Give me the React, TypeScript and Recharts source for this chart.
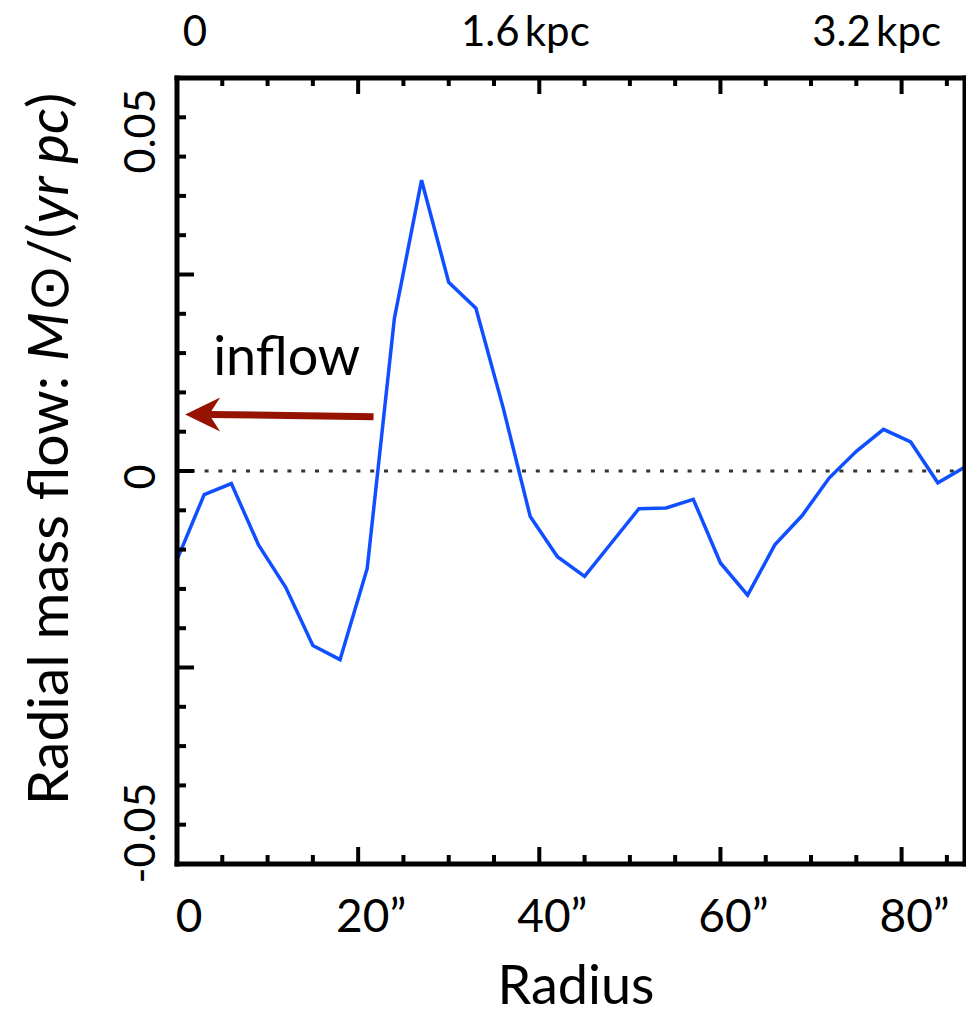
import { LineChart, Line, XAxis, YAxis, ReferenceLine } from 'recharts';

// radius in arcsec, flow in M_sun / (yr pc)
const radius = [0, 3, 6, 9, 12, 15, 18, 21, 24, 27, 30, 33, 36, 39, 42, 45, 48, 51, 54, 57, 60, 63, 66, 69, 72, 75, 78, 81, 84, 87];
const flow = [
  -0.0113, -0.003, -0.0016, -0.0094, -0.0148, -0.0222, -0.024, -0.0124, 0.0194, 0.037,
  0.024, 0.0207, 0.0081, -0.0058, -0.0109, -0.0134, -0.0091, -0.0048, -0.0047, -0.0036,
  -0.0117, -0.0158, -0.0094, -0.0057, -0.0009, 0.0025, 0.0053, 0.0037, -0.0015, 0.0005,
];

const xTicks = [0, 5, 10, 15, 20, 25, 30, 35, 40, 45, 50, 55, 60, 65, 70, 75, 80, 85];
const xMajor = [0, 20, 40, 60, 80];
const topLabels: Record<number, string> = { 0: '0', 40: '1.6\u2009kpc', 80: '3.2\u2009kpc' };
const yTicks = [
  -0.05, -0.045, -0.04, -0.035, -0.03, -0.025, -0.02, -0.015, -0.01, -0.005, 0,
  0.005, 0.01, 0.015, 0.02, 0.025, 0.03, 0.035, 0.04, 0.045, 0.05,
];
const yLabels = [-0.05, 0, 0.05];

// arrow annotation (data coords)
const arrowFrom = { x: 21.7, y: 0.0069 };
const arrowTo = { x: 0.9, y: 0.0072 };

const data = radius.map((r, i) => ({ r, flow: flow[i] }));

const FONT = 'Lato, "Open Sans", sans-serif';
const isMajorY = (v: number) => Math.round(v * 1000) % 25 === 0;

const BottomTick = (props: any) => {
  const { x, y, payload } = props;
  const v = payload.value;
  const major = xMajor.includes(v);
  return (
    <g>
      {v !== 0 && <line x1={x} y1={y} x2={x} y2={y - (major ? 17 : 9)} stroke="#000" strokeWidth={4} />}
      {major && (
        <text x={x + (v === 0 ? 12 : 13)} y={y + 68} textAnchor="middle" fontSize={46} fontFamily={FONT} fill="#000">
          {v === 0 ? '0' : `${v}\u201D`}
        </text>
      )}
    </g>
  );
};

const TopTick = (props: any) => {
  const { x, y, payload } = props;
  const v = payload.value;
  const major = xMajor.includes(v);
  const label = topLabels[v];
  const dx = v === 0 ? 18 : v === 40 ? -14 : -25;
  return (
    <g>
      {v !== 0 && <line x1={x} y1={y} x2={x} y2={y + (major ? 16 : 8)} stroke="#000" strokeWidth={4} />}
      {label && (
        <text x={x + dx} y={y - 32} textAnchor="middle" fontSize={42} fontFamily={FONT} fill="#000">
          {label}
        </text>
      )}
    </g>
  );
};

const LeftTick = (props: any) => {
  const { x, y, payload } = props;
  const v = payload.value;
  const major = isMajorY(v);
  const edge = Math.abs(v) > 0.049;
  const showLabel = yLabels.some(l => Math.abs(l - v) < 1e-6);
  const dy = v > 0.01 ? 53 : v < -0.01 ? -31 : 6;
  const tx = 155;
  const ty = y + dy;
  return (
    <g>
      {!edge && <line x1={x} y1={y} x2={x + (major ? 17 : 9)} y2={y} stroke="#000" strokeWidth={4} />}
      {showLabel && (
        <text x={tx} y={ty} transform={`rotate(-90, ${tx}, ${ty})`} textAnchor="middle" fontSize={43} fontFamily={FONT} fill="#000">
          {v === 0 ? '0' : v > 0 ? '0.05' : '-0.05'}
        </text>
      )}
    </g>
  );
};

const RightTick = (props: any) => {
  const { x, y, payload } = props;
  const v = payload.value;
  const major = isMajorY(v);
  if (Math.abs(v) > 0.049) return <g />;
  return <line x1={x} y1={y} x2={x - (major ? 16 : 8)} y2={y} stroke="#000" strokeWidth={4} />;
};

const Arrow = (props: any) => {
  const { x1, y1, x2, y2 } = props;
  return (
    <g>
      <line x1={x1} y1={y1} x2={x2 + 24} y2={y2} stroke="#951300" strokeWidth={7} />
      <polygon
        points={`${x2},${y2} ${x2 + 35},${y2 - 17} ${x2 + 24},${y2} ${x2 + 35},${y2 + 17}`}
        fill="#951300"
      />
      <text x={x2 + 28} y={y2 - 39} fontSize={54} fontFamily={FONT} fill="#000">
        inflow
      </text>
    </g>
  );
};

const xTitle = (props: any) => {
  const vb = props.viewBox ?? { x: 177, width: 788 };
  const cx = vb.x + vb.width / 2 + 5;
  return (
    <text x={cx} y={1004} textAnchor="middle" fontSize={54} fontFamily={FONT} fill="#000">
      Radius
    </text>
  );
};

const yTitle = (props: any) => {
  const vb = props.viewBox ?? { y: 78, height: 786 };
  const cy = vb.y + vb.height / 2 - 22;
  return (
    <text x={68} y={cy} transform={`rotate(-90, 68, ${cy})`} textAnchor="middle" fontSize={57} fontFamily={FONT} fill="#000">
      {'Radial mass flow: '}
      <tspan fontStyle="italic">M</tspan>
      {'\u2299/('}
      <tspan fontStyle="italic">yr pc</tspan>
      {')'}
    </text>
  );
};

const axisLine = { stroke: '#000', strokeWidth: 5, strokeLinecap: 'square' as const };

const App = () => {
  return (
    <div style={{ position: 'absolute', left: 0, top: 0, background: '#fff' }}>
      <LineChart width={966} height={1023} data={data} margin={{ top: 77, right: 0, bottom: 158, left: 176 }}>
        <XAxis
          xAxisId="bottom"
          dataKey="r"
          type="number"
          domain={[0, 87]}
          ticks={xTicks}
          interval={0}
          height={1}
          tickSize={0}
          tickMargin={0}
          tickLine={false}
          axisLine={axisLine}
          tick={BottomTick}
          label={xTitle}
        />
        <XAxis
          xAxisId="top"
          orientation="top"
          dataKey="r"
          type="number"
          domain={[0, 87]}
          ticks={xTicks}
          interval={0}
          height={1}
          tickSize={0}
          tickMargin={0}
          tickLine={false}
          axisLine={axisLine}
          tick={TopTick}
        />
        <YAxis
          yAxisId="left"
          type="number"
          domain={[-0.05, 0.05]}
          ticks={yTicks}
          interval={0}
          width={1}
          tickSize={0}
          tickMargin={0}
          tickLine={false}
          axisLine={axisLine}
          tick={LeftTick}
          label={yTitle}
        />
        <YAxis
          yAxisId="right"
          orientation="right"
          type="number"
          domain={[-0.05, 0.05]}
          ticks={yTicks}
          interval={0}
          width={1}
          tickSize={0}
          tickMargin={0}
          tickLine={false}
          axisLine={axisLine}
          tick={RightTick}
        />
        <ReferenceLine
          xAxisId="bottom"
          yAxisId="left"
          y={0}
          stroke="#333"
          strokeWidth={3}
          strokeDasharray="4 9.8"
        />
        <Line
          xAxisId="bottom"
          yAxisId="left"
          type="linear"
          dataKey="flow"
          stroke="#0f4fff"
          strokeWidth={3.5}
          dot={false}
          isAnimationActive={false}
        />
        <ReferenceLine
          xAxisId="bottom"
          yAxisId="left"
          segment={[arrowFrom, arrowTo]}
          shape={Arrow}
        />
      </LineChart>
    </div>
  );
};

export default App;
